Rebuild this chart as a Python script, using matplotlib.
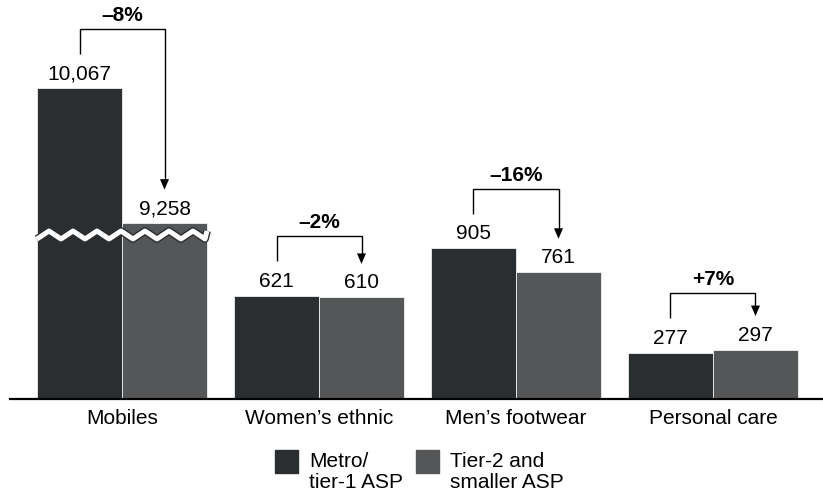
import numpy as np
import matplotlib
matplotlib.use("Agg")
import matplotlib.pyplot as plt
from matplotlib.lines import Line2D
from matplotlib.patches import Rectangle, Polygon
from matplotlib.transforms import IdentityTransform

plt.rcParams["font.family"] = ["Liberation Sans", "DejaVu Sans"]

# ---- data -------------------------------------------------------------
categories = ["Mobiles", "Women\u2019s ethnic", "Men\u2019s footwear", "Personal care"]
metro_asp = [10067, 621, 905, 277]
tier2_asp = [9258, 610, 761, 297]
change_labels = ["\u20138%", "\u20132%", "\u201316%", "+7%"]
legend_labels = ["Metro/\ntier-1 ASP", "Tier-2 and\nsmaller ASP"]

DARK = "#2b2e31"
GRAY = "#555658"
FS = 15

# ---- broken value axis: squeeze the empty stretch between LO and HI ----
LO, HI, EPS = 1030.0, 9240.0, 0.001
MID = LO + (HI - LO) * EPS


def fwd(v):
    v = np.asarray(v, dtype=float)
    return np.where(v <= LO, v,
                    np.where(v <= HI, LO + (v - LO) * EPS, MID + (v - HI)))


def inv(u):
    u = np.asarray(u, dtype=float)
    return np.where(u <= LO, u,
                    np.where(u <= MID, LO + (u - LO) / EPS, HI + (u - MID)))


W, H = 823, 497
fig = plt.figure(figsize=(W / 100, H / 100), dpi=100)
ax = fig.add_axes([10 / W, 98 / H, 813 / W, 399 / H])
ax.set_yscale("function", functions=(fwd, inv))

x = np.arange(len(categories), dtype=float)
bw = 85 / 197

ax.bar(x - bw / 2, metro_asp, bw, color=DARK, edgecolor="white", linewidth=0.5, zorder=2)
ax.bar(x + bw / 2, tier2_asp, bw, color=GRAY, edgecolor="white", linewidth=0.5, zorder=2)

ax.set_xlim(-112 / 197, 701 / 197)
ax.set_ylim(0, float(inv(399 / 0.1665)))

for s in ["left", "right", "top"]:
    ax.spines[s].set_visible(False)
ax.spines["bottom"].set_linewidth(1.6)
ax.spines["bottom"].set_color("black")
ax.set_yticks([])
ax.set_xticks(x, categories)
ax.tick_params(axis="x", length=0, pad=7, labelsize=FS, colors="black")

# value labels
for xi, m, t in zip(x, metro_asp, tier2_asp):
    ax.annotate(f"{m:,}", xy=(xi - bw / 2, m), xytext=(0, 6.5), textcoords="offset points",
                ha="center", va="baseline", fontsize=FS)
    ax.annotate(f"{t:,}", xy=(xi + bw / 2, t), xytext=(0, 6.5), textcoords="offset points",
                ha="center", va="baseline", fontsize=FS)

# zigzag break across the Mobiles pair
period = 24 / 197
amp = 24.0
y_mid = 985.0
x0, x1 = x[0] - bw, x[0] + bw
zx = np.arange(x0, x1 + 1e-9, period / 2)
zx = np.append(zx, x1) if zx[-1] < x1 else zx
zy = y_mid + amp * np.where(np.arange(len(zx)) % 2 == 0, -1, 1)
ax.plot(zx, zy, color=DARK, lw=5.6, solid_joinstyle="round", solid_capstyle="butt", zorder=3)
ax.plot(zx, zy, color="white", lw=3.6, solid_joinstyle="round", solid_capstyle="butt", zorder=4)

# change brackets with arrowheads
HEAD_LEN, HEAD_HALF = 10.5, 4.5
for xi, m, t, lab in zip(x, metro_asp, tier2_asp, change_labels):
    lx, ly = ax.transData.transform((xi - bw / 2, m))
    rx, ry = ax.transData.transform((xi + bw / 2, t))
    y_start = ly + 34.5
    y_br = ly + 59.5
    y_tip = ry + 33.5
    fig.add_artist(Line2D([lx, lx, rx, rx], [y_start, y_br, y_br, y_tip + HEAD_LEN - 1],
                          transform=IdentityTransform(), color="black", lw=1.0,
                          solid_joinstyle="miter", solid_capstyle="butt"))
    fig.add_artist(Polygon([(rx, y_tip), (rx - HEAD_HALF, y_tip + HEAD_LEN),
                            (rx + HEAD_HALF, y_tip + HEAD_LEN)], closed=True,
                           transform=IdentityTransform(), facecolor="black",
                           edgecolor="none"))
    fig.text((lx + rx) / 2 / W, (y_br + 8) / H, lab,
             ha="center", va="baseline", fontsize=FS, fontweight="bold")

# legend
for (sx, tx), col, lab in zip([(275, 309), (416, 450)], [DARK, GRAY], legend_labels):
    fig.add_artist(Rectangle((sx / W, (H - 473) / H), 23 / W, 23 / H,
                             transform=fig.transFigure, color=col))
    fig.text(tx / W, (H - 452) / H, lab, ha="left", va="top", fontsize=FS, linespacing=1.1)

fig.savefig("out.png", dpi=100)
